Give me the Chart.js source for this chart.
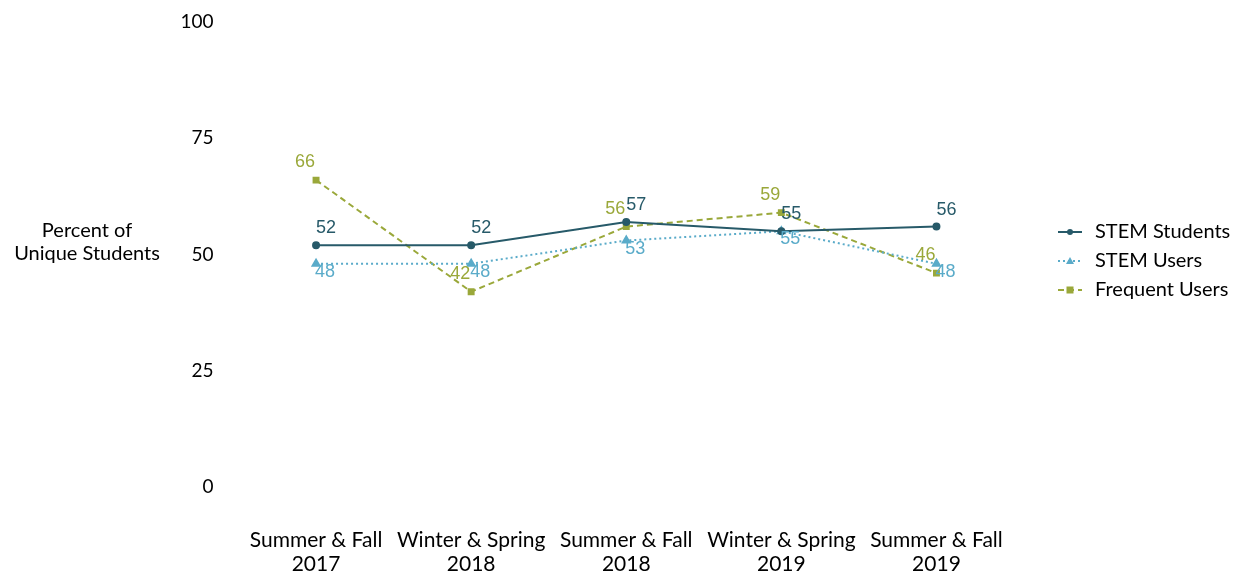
<!DOCTYPE html>
<html>
<head>
<meta charset="utf-8">
<script src="https://cdn.jsdelivr.net/npm/chart.js@4/dist/chart.umd.min.js"></script>
<style>
  html, body { margin: 0; padding: 0; background: #fff; }
  #wrap { width: 1236px; height: 573px; }
</style>
</head>
<body>
<div id="wrap"><canvas id="grafico" width="1236" height="573"></canvas></div>
<script>
const periodos = [
  ["Summer & Fall", "2017"],
  ["Winter & Spring", "2018"],
  ["Summer & Fall", "2018"],
  ["Winter & Spring", "2019"],
  ["Summer & Fall", "2019"]
];
const stemStudents = [52, 52, 57, 55, 56];
const stemUsers = [48, 48, 53, 55, 48];
const frequentUsers = [66, 42, 56, 59, 46];
const yTicks = [0, 25, 50, 75, 100];

const colStudents = "#275a69";
const colUsers = "#5aabc9";
const colFrequent = "#9aa83a";

const fuenteEje = "Lato, 'Open Sans', sans-serif";
const fuenteDato = "'Liberation Sans', Arial, sans-serif";

// etiquetas de valores, leyenda y titulo del eje y
const extras = {
  id: "extras",
  afterDatasetsDraw(chart) {
    const ctx = chart.ctx;
    ctx.save();
    ctx.font = "18px " + fuenteDato;
    ctx.textAlign = "center";
    ctx.textBaseline = "middle";
    const offsets = [[10, -17], [9, 8], [-11, -18]];
    chart.data.datasets.forEach((ds, i) => {
      const meta = chart.getDatasetMeta(i);
      ctx.fillStyle = ds.borderColor;
      meta.data.forEach((p, j) => {
        ctx.fillText(ds.data[j], p.x + offsets[i][0], p.y + offsets[i][1]);
      });
    });

    // titulo eje y
    ctx.fillStyle = "#000";
    ctx.font = "20px " + fuenteEje;
    ctx.textAlign = "center";
    ctx.fillText("Percent of", 87, 231);
    ctx.fillText("Unique Students", 87, 254);

    // leyenda
    const filas = [232, 261, 290];
    chart.data.datasets.forEach((ds, i) => {
      const y = filas[i];
      ctx.strokeStyle = ds.borderColor;
      ctx.lineWidth = 2;
      ctx.setLineDash(ds.borderDash || []);
      ctx.beginPath();
      ctx.moveTo(1058, y);
      ctx.lineTo(1082, y);
      ctx.stroke();
      ctx.setLineDash([]);
      ctx.fillStyle = ds.borderColor;
      const x = 1070;
      if (ds.pointStyle === "circle") {
        ctx.beginPath(); ctx.arc(x, y, 3, 0, Math.PI * 2); ctx.fill();
      } else if (ds.pointStyle === "triangle") {
        ctx.beginPath(); ctx.moveTo(x, y - 4); ctx.lineTo(x + 4, y + 3); ctx.lineTo(x - 4, y + 3); ctx.closePath(); ctx.fill();
      } else {
        ctx.fillRect(x - 3.5, y - 3.5, 7, 7);
      }
      ctx.fillStyle = "#000";
      ctx.textAlign = "left";
      ctx.fillText(ds.label, 1095, y);
    });
    ctx.restore();
  }
};

new Chart(document.getElementById("grafico"), {
  type: "line",
  data: {
    labels: periodos,
    datasets: [
      {
        label: "STEM Students",
        data: stemStudents,
        borderColor: colStudents,
        backgroundColor: colStudents,
        borderWidth: 2,
        pointStyle: "circle",
        pointRadius: 3
      },
      {
        label: "STEM Users",
        data: stemUsers,
        borderColor: colUsers,
        backgroundColor: colUsers,
        borderWidth: 2,
        borderDash: [2, 3],
        pointStyle: "triangle",
        pointRadius: 4
      },
      {
        label: "Frequent Users",
        data: frequentUsers,
        borderColor: colFrequent,
        backgroundColor: colFrequent,
        borderWidth: 2,
        borderDash: [6, 4],
        pointStyle: "rect",
        pointRadius: 3.5
      }
    ]
  },
  options: {
    responsive: false,
    animation: false,
    elements: { line: { tension: 0 } },
    layout: { padding: { top: 22, right: 222, bottom: 0, left: 0 } },
    plugins: { legend: { display: false }, tooltip: { enabled: false } },
    scales: {
      x: {
        offset: true,
        grid: { display: false, drawTicks: false },
        border: { display: false },
        ticks: { color: "#000", font: { family: fuenteEje, size: 21, lineHeight: 1.15 }, padding: 41, maxRotation: 0 },
        afterFit: s => { s.height = 86; s.paddingLeft = 0; s.paddingRight = 0; }
      },
      y: {
        min: 0,
        max: 100,
        grid: { display: false, drawTicks: false },
        border: { display: false },
        afterBuildTicks: s => { s.ticks = yTicks.map(v => ({ value: v })); },
        ticks: { color: "#000", font: { family: fuenteEje, size: 19 }, padding: 25 },
        afterFit: s => { s.width = 238.5; s.paddingTop = 0; s.paddingBottom = 0; }
      }
    }
  },
  plugins: [extras]
});
</script>
</body>
</html>
